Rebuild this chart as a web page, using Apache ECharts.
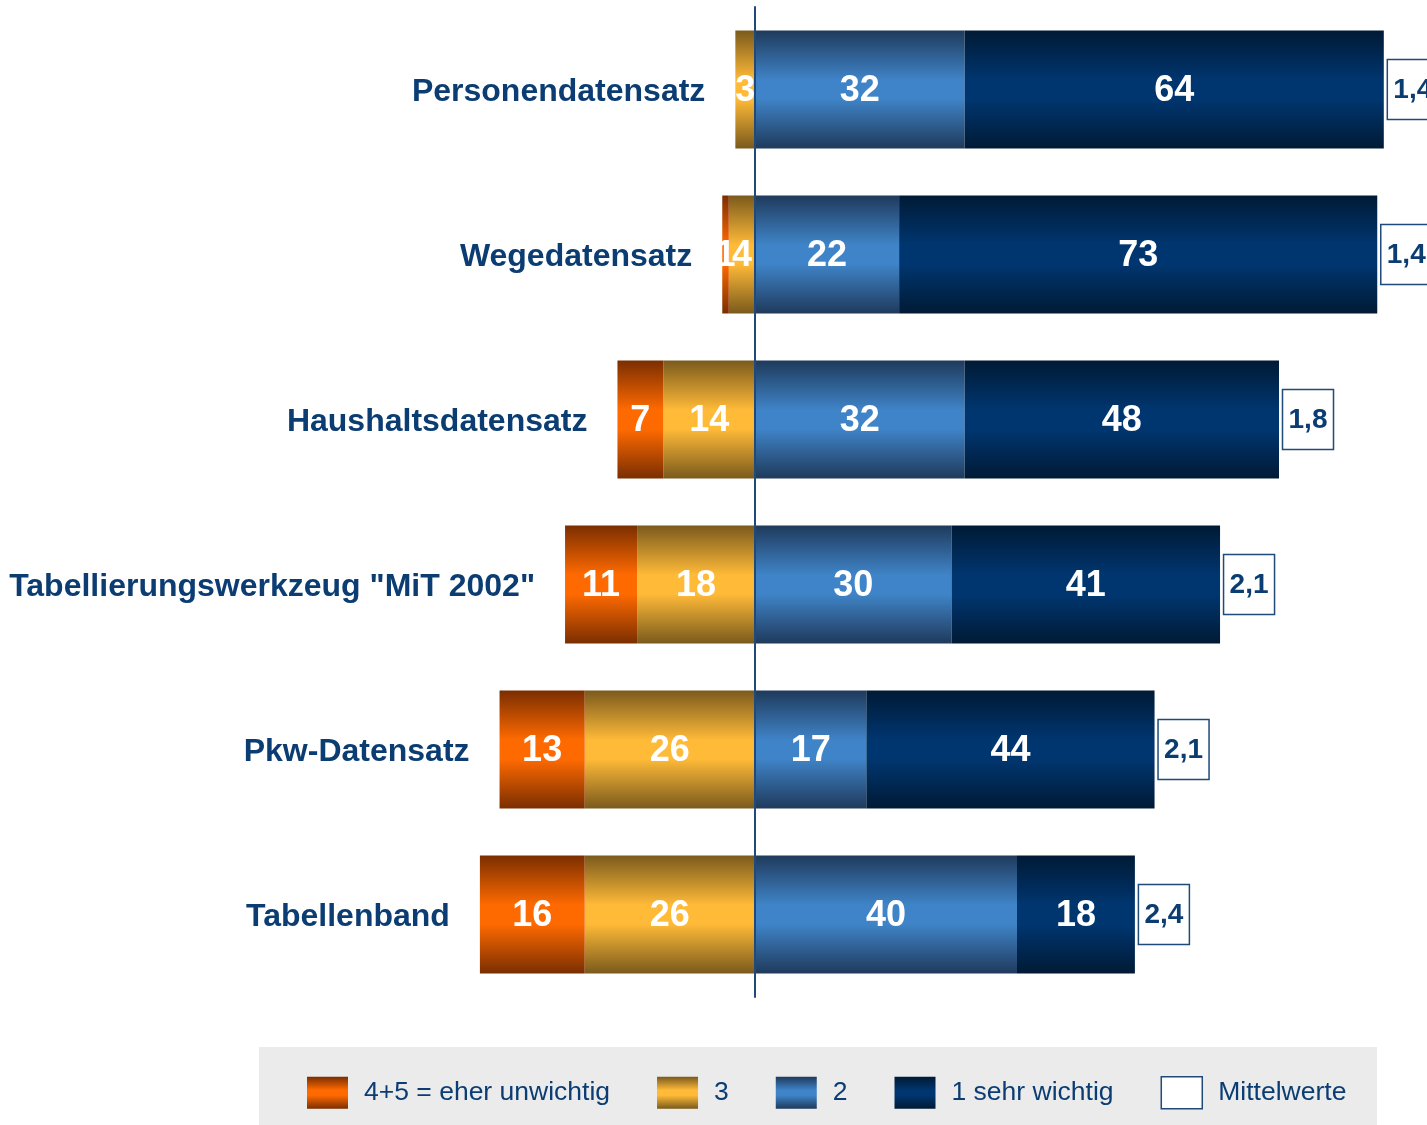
<!DOCTYPE html>
<html>
<head>
<meta charset="utf-8">
<title>Wichtigkeit der Datenprodukte</title>
<script src="https://cdn.jsdelivr.net/npm/echarts@6/dist/echarts.min.js"></script>
<style>
  html, body { margin: 0; padding: 0; background: #fff; }
  #chart { width: 1427px; height: 1125px; }
</style>
</head>
<body>
<div id="chart"></div>
<script>
// Datensätze / Produkte (oben nach unten)
const categories = [
  'Personendatensatz',
  'Wegedatensatz',
  'Haushaltsdatensatz',
  'Tabellierungswerkzeug "MiT 2002"',
  'Pkw-Datensatz',
  'Tabellenband'
]
// Anteile in %
const eherUnwichtig = [0, 1, 7, 11, 13, 16]   // 4+5
const mittel = [3, 4, 14, 18, 26, 26]          // 3
const wichtig = [32, 22, 32, 30, 17, 40]       // 2
const sehrWichtig = [64, 73, 48, 41, 44, 18]   // 1
const mittelwerte = ['1,4', '1,4', '1,8', '2,1', '2,1', '2,4']

const legendNames = ['4+5 = eher unwichtig', '3', '2', '1 sehr wichtig', 'Mittelwerte']

const navy = '#0b3d73'
const boxLine = '#1f4a7a'

function band(dark, mid) {
  return {
    type: 'linear',
    x: 0, y: 0, x2: 0, y2: 1,
    colorStops: [
      { offset: 0, color: dark },
      { offset: 0.42, color: mid },
      { offset: 0.58, color: mid },
      { offset: 1, color: dark },
    ],
  }
}

const valueLabel = {
  show: true,
  position: 'inside',
  offset: [0, 2],
  color: '#fff',
  fontSize: 36,
  fontWeight: 'bold',
  fontFamily: 'Liberation Sans, Arial, sans-serif',
  formatter: (p) => (p.value === 0 ? '' : String(Math.abs(p.value))),
}

function barSeries(name, data, color) {
  return {
    name,
    type: 'bar',
    stack: 'total',
    barWidth: 118,
    data,
    itemStyle: { color },
    label: valueLabel,
    emphasis: { disabled: true },
  }
}

const chart = echarts.init(document.getElementById('chart'))

chart.setOption({
  animation: false,
  textStyle: { fontFamily: 'Liberation Sans, Arial, sans-serif' },
  graphic: [
    {
      type: 'rect',
      left: 259,
      top: 1047,
      shape: { width: 1118, height: 78 },
      style: { fill: '#ebebeb' },
      z: -1,
    },
  ],
  legend: {
    left: 307,
    top: 1076,
    padding: 0,
    itemWidth: 41,
    itemHeight: 32,
    itemGap: 47,
    icon: 'rect',
    selectedMode: false,
    textStyle: { fontSize: 26.5, color: navy, padding: [3, 0, 0, 11] },
    data: [
      legendNames[0],
      legendNames[1],
      legendNames[2],
      legendNames[3],
      {
        name: legendNames[4],
        itemStyle: { color: '#fff', borderColor: boxLine, borderWidth: 1.5 },
      },
    ],
  },
  grid: { left: 34.5, top: 7, width: 1375.5, height: 990 },
  xAxis: {
    type: 'value',
    min: -110,
    max: 100,
    show: false,
  },
  yAxis: {
    type: 'category',
    data: categories,
    inverse: true,
    axisLabel: { show: false },
    axisTick: { show: false },
    axisLine: { show: true, onZero: true, lineStyle: { color: boxLine, width: 2 } },
    z: 10,
  },
  series: [
    barSeries(legendNames[1], mittel.map((v) => -v), band('#7a5a1c', '#ffba38')),
    barSeries(legendNames[0], eherUnwichtig.map((v) => -v), band('#7a2e00', '#ff6a00')),
    barSeries(legendNames[2], wichtig, band('#1f3a5c', '#3f84c8')),
    barSeries(legendNames[3], sehrWichtig, band('#001a35', '#003670')),
    {
      // Mittelwert-Kästchen rechts am Balkenende
      name: legendNames[4],
      type: 'custom',
      clip: false,
      itemStyle: { color: '#fff', borderColor: boxLine, borderWidth: 1.5 },
      data: categories.map((c, i) => [wichtig[i] + sehrWichtig[i], i]),
      renderItem: (params, api) => {
        const i = params.dataIndex
        const pt = api.coord([api.value(0), api.value(1)])
        return {
          type: 'group',
          children: [
            {
              type: 'rect',
              shape: { x: pt[0] + 3.5, y: pt[1] - 30, width: 51, height: 60 },
              style: { fill: '#fff', stroke: boxLine, lineWidth: 1.5 },
            },
            {
              type: 'text',
              x: pt[0] + 29,
              y: pt[1] + 1,
              style: {
                text: mittelwerte[i],
                fill: navy,
                font: 'bold 28px "Liberation Sans", Arial, sans-serif',
                align: 'center',
                verticalAlign: 'middle',
              },
            },
          ],
        }
      },
    },
    {
      // Kategorienamen links vor dem Balken
      name: 'labels',
      type: 'custom',
      clip: false,
      data: categories.map((c, i) => [-(eherUnwichtig[i] + mittel[i]), i]),
      renderItem: (params, api) => {
        const i = params.dataIndex
        const pt = api.coord([api.value(0), api.value(1)])
        return {
          type: 'text',
          x: pt[0] - 30,
          y: pt[1] + 3,
          style: {
            text: categories[i],
            fill: navy,
            font: 'bold 32px "Liberation Sans", Arial, sans-serif',
            align: 'right',
            verticalAlign: 'middle',
          },
        }
      },
    },
  ],
})
</script>
</body>
</html>
